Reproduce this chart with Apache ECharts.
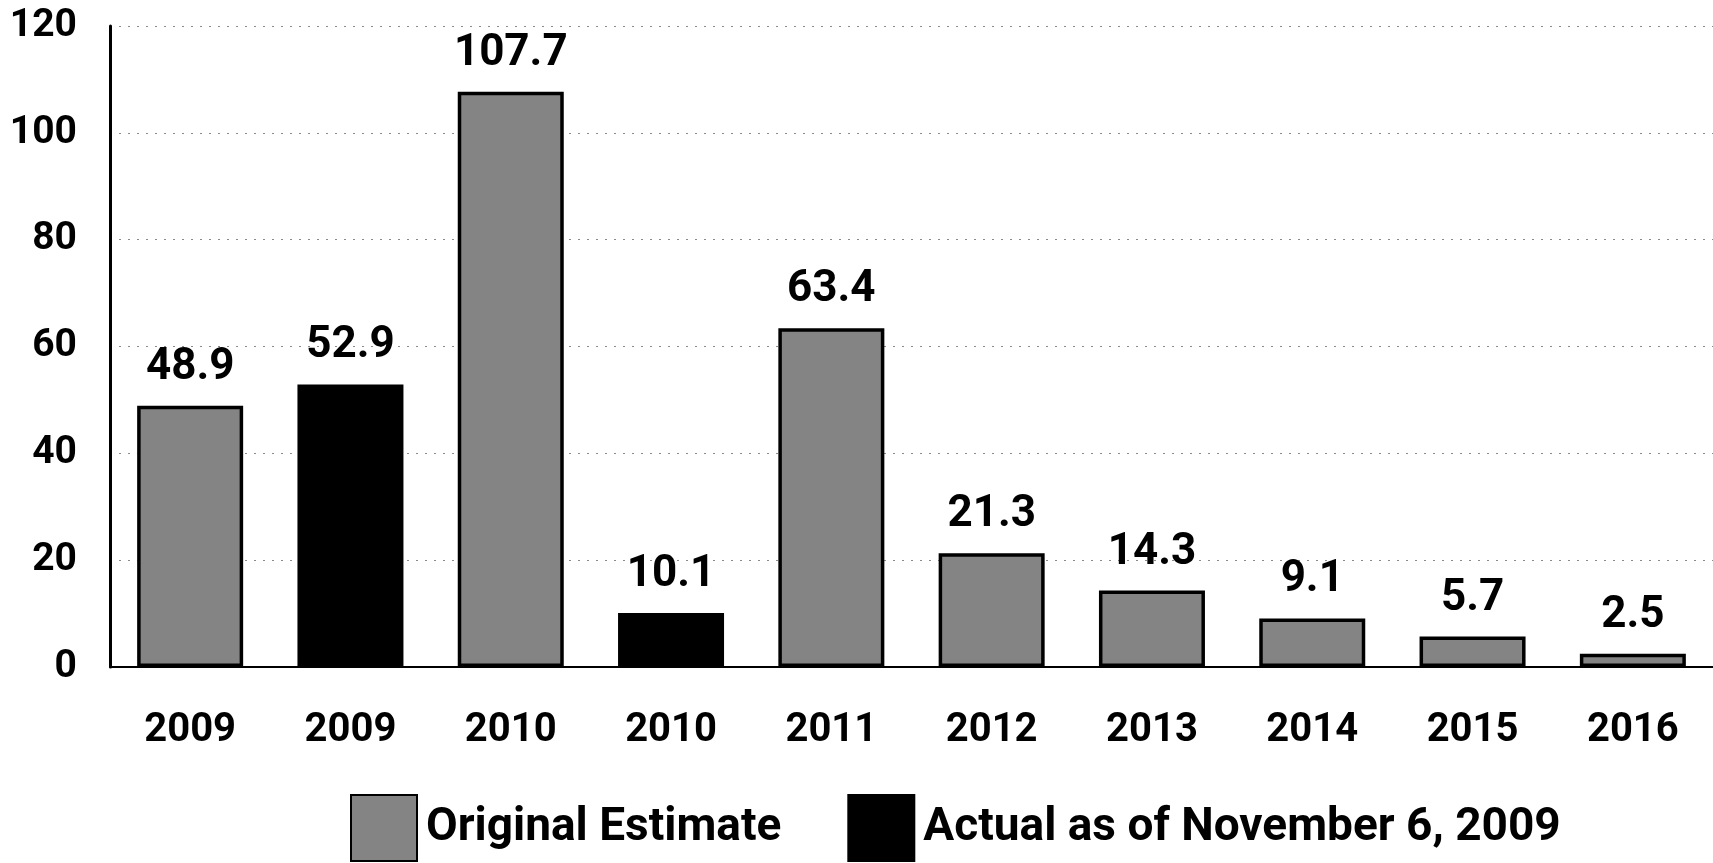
<!DOCTYPE html>
<html>
<head>
<meta charset="utf-8">
<script src="https://cdn.jsdelivr.net/npm/echarts@6/dist/echarts.min.js"></script>
<style>
html,body{margin:0;padding:0;background:#fff;}
#chart{width:1713px;height:863px;}
</style>
</head>
<body>
<div id="chart"></div>
<script>
var categories = ['2009','2009','2010','2010','2011','2012','2013','2014','2015','2016'];
var originalEstimate = [48.9, null, 107.7, null, 63.4, 21.3, 14.3, 9.1, 5.7, 2.5];
var actualNov2009 = [null, 52.9, null, 10.1, null, null, null, null, null, null];
var yTicks = [0, 20, 40, 60, 80, 100, 120];

var FONT = 'Roboto';
var chart = echarts.init(document.getElementById('chart'));
var labelStyle = {
  show: true,
  position: 'top',
  distance: 16,
  fontFamily: FONT,
  fontWeight: 'bold',
  fontSize: 44,
  color: '#000',
  formatter: function (p) { return p.value == null ? '' : p.value.toFixed(1); }
};
chart.setOption({
  animation: false,
  backgroundColor: '#fff',
  grid: { left: 110, right: 0, top: 26, bottom: 196 },
  legend: {
    left: 345,
    top: 789,
    itemWidth: 66,
    itemHeight: 66,
    itemGap: 66,
    icon: 'rect',
    textStyle: { fontFamily: FONT, fontWeight: 'bold', fontSize: 46, color: '#000', padding: [0, 0, 0, 4] },
    data: ['Original Estimate', 'Actual as of November 6, 2009']
  },
  xAxis: {
    type: 'category',
    data: categories,
    axisLine: { show: true, lineStyle: { color: '#000', width: 2 } },
    axisTick: { show: false },
    axisLabel: { fontFamily: FONT, fontWeight: 'bold', fontSize: 40, color: '#000', margin: 44 }
  },
  yAxis: {
    type: 'value',
    min: yTicks[0],
    max: yTicks[yTicks.length - 1],
    interval: 20,
    axisLine: { show: true, lineStyle: { color: '#000', width: 3 } },
    axisTick: { show: false },
    axisLabel: { fontFamily: FONT, fontWeight: 'bold', fontSize: 39, color: '#000', margin: 33 },
    splitLine: { show: true, lineStyle: { color: '#8a8a8a', width: 1, type: [2, 7] } }
  },
  series: [
    {
      name: 'Original Estimate',
      type: 'bar',
      data: originalEstimate,
      barWidth: 106,
      barGap: '-100%',
      itemStyle: { color: '#848484', borderColor: '#000', borderWidth: 3.5 },
      label: labelStyle
    },
    {
      name: 'Actual as of November 6, 2009',
      type: 'bar',
      data: actualNov2009,
      barWidth: 106,
      barGap: '-100%',
      itemStyle: { color: '#000', borderColor: '#000', borderWidth: 3.5 },
      label: labelStyle
    }
  ]
});
</script>
</body>
</html>
